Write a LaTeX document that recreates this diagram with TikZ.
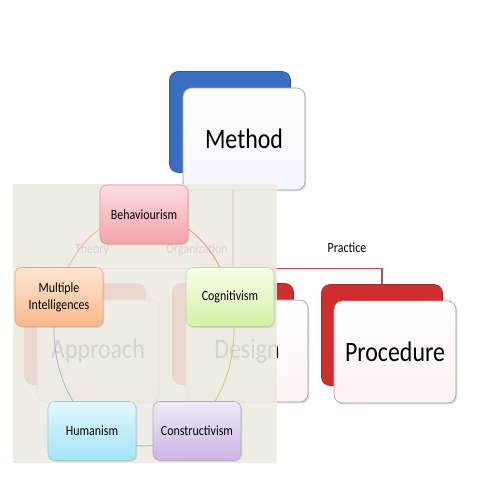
\documentclass[tikz,border=0pt]{standalone}
\usepackage{fontspec}
\setmainfont{Carlito}[FakeStretch=0.85]
\usetikzlibrary{shadows}

\definecolor{methodblue}{HTML}{3A6EC2}
\definecolor{procred}{HTML}{D02E2E}
\definecolor{panelbeige}{HTML}{EDEAE2}
\definecolor{treered}{HTML}{C0504D}
\definecolor{behavtop}{HTML}{FBDDE0}
\definecolor{behavbot}{HTML}{F2A2A8}
\definecolor{multtop}{HTML}{FEE6D4}
\definecolor{multbot}{HTML}{F9B98A}
\definecolor{cogtop}{HTML}{F6FDEB}
\definecolor{cogbot}{HTML}{D3F3A4}
\definecolor{humtop}{HTML}{E3F7FC}
\definecolor{humbot}{HTML}{A2E3F6}
\definecolor{contop}{HTML}{EFE9F7}
\definecolor{conbot}{HTML}{C9B5E4}

\begin{document}
\begin{tikzpicture}[x=0.025cm,y=-0.025cm,
  backbox/.style={rounded corners=6pt,minimum width=3.025cm,minimum height=2.525cm,draw=#1!80!black,fill=#1},
  frontbox/.style={rounded corners=6pt,minimum width=3.05cm,minimum height=2.55cm,draw=gray!80,top color=white,bottom color=#1,
    drop shadow={opacity=0.25,shadow xshift=1pt,shadow yshift=-1pt},font=\fontsize{20}{24}\selectfont},
  cyclebox/.style 2 args={rounded corners=5pt,minimum width=2.2cm,minimum height=1.475cm,align=center,draw=#2!75!gray,
    top color=#1,bottom color=#2,drop shadow={opacity=0.2,shadow xshift=1pt,shadow yshift=-1pt},
    font=\fontsize{10}{12}\selectfont},
  taglabel/.style={font=\fontsize{10}{12}\selectfont},
  treeline/.style={draw=treered,line width=0.8pt},
  ring/.style={line width=0.6pt}]
\useasboundingbox (0,0) rectangle (480,480);

% hierarchy in the back
\node[backbox=methodblue] (methodback) at (230,122) {};
\node[frontbox=blue!4] (method) at (244,139) {Method};
\node[backbox=procred] (approachback) at (85,334) {};
\node[backbox=procred] (designback) at (233,334) {};
\node[backbox=procred] (procback) at (382,335) {};
\node[frontbox=red!5] (approach) at (98,351) {Approach};
\node[frontbox=red!5] (design) at (247,351) {Design};
\node[frontbox=red!5] (procedure) at (395,352) {Procedure};
\draw[treeline] (method.south -| designback.north) -- (designback.north);
\draw[treeline] (approachback.north) -- ++(0,-15) -| (procback.north);
\node[taglabel] (theory) at (92,250) {Theory};
\node[taglabel] (organization) at (197,250) {Organization};
\node[taglabel] (practice) at (347,248) {Practice};

% overlay panel
\fill[panelbeige,fill opacity=0.9] (13,184) rectangle (277,463);

% ring of theories
\draw[ring,draw=orange!40!brown!50] (144,330) ++(197:90 and 116) arc[start angle=197,end angle=270,x radius=90,y radius=116];
\draw[ring,draw=brown!55!pink] (144,330) ++(270:90 and 116) arc[start angle=270,end angle=343,x radius=90,y radius=116];
\draw[ring,draw=olive!45] (144,330) ++(343:90 and 116) arc[start angle=343,end angle=420,x radius=90,y radius=116];
\draw[ring,draw=gray!60] (144,330) ++(60:90 and 116) arc[start angle=60,end angle=120,x radius=90,y radius=116];
\draw[ring,draw=cyan!40!gray!70] (144,330) ++(120:90 and 116) arc[start angle=120,end angle=197,x radius=90,y radius=116];

\node[cyclebox={behavtop}{behavbot}] (behaviourism) at (144,214.5) {Behaviourism};
\node[cyclebox={multtop}{multbot}] (multiple) at (59,297) {Multiple\\Intelligences};
\node[cyclebox={cogtop}{cogbot}] (cognitivism) at (230,297) {Cognitivism};
\node[cyclebox={humtop}{humbot}] (humanism) at (92,431) {Humanism};
\node[cyclebox={contop}{conbot}] (constructivism) at (197,431) {Constructivism};
\end{tikzpicture}
\end{document}
